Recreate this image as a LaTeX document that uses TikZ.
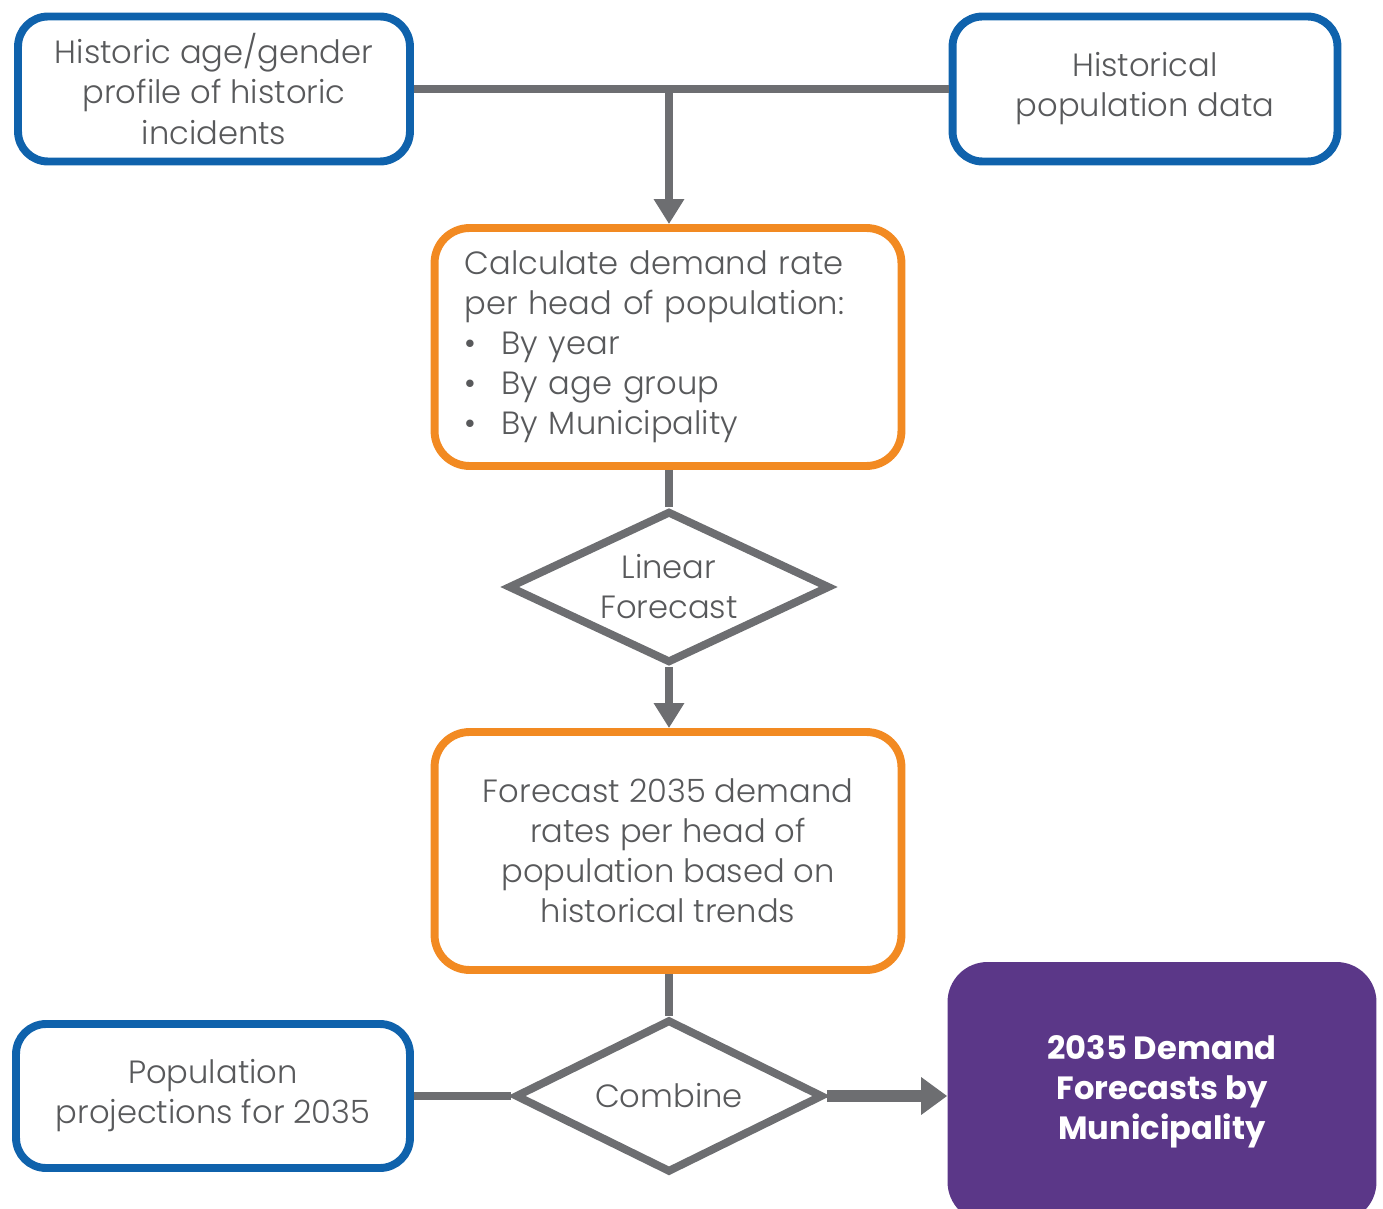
\documentclass[tikz,border=0pt]{standalone}
\usepackage{fontspec}
\setmainfont{Poppins}[UprightFont=* Light, BoldFont=* Bold]
\usepackage{tikz}
\usetikzlibrary{arrows.meta,positioning,shapes.geometric}
\definecolor{InBlue}{HTML}{0F62AC}
\definecolor{StepOrange}{HTML}{F28A22}
\definecolor{LinkGray}{HTML}{6D6E71}
\definecolor{TextGray}{HTML}{58595B}
\definecolor{OutPurple}{HTML}{5B3788}

\begin{document}
\begin{tikzpicture}[
    x=0.02cm, y=-0.02cm,
    font=\fontsize{18.3}{22.8}\selectfont,
    inbox/.style={draw=InBlue, line width=4.5pt, rounded corners=0.6cm, align=center, text=TextGray, minimum width=7.84cm, minimum height=2.9cm, inner sep=0pt},
    stepbox/.style={draw=StepOrange, line width=4.5pt, rounded corners=0.7cm, text=TextGray, minimum width=9.34cm, minimum height=4.76cm, inner sep=0pt},
    decision/.style={diamond, draw=LinkGray, line width=4.5pt, aspect=2, inner sep=0pt, text=TextGray, align=center},
    outbox/.style={fill=OutPurple, rounded corners=0.8cm, text=white, font=\fontsize{18.3}{22.8}\selectfont\bfseries, align=center, minimum width=8.58cm, minimum height=5.2cm},
    link/.style={draw=LinkGray, line width=4.5pt},
    arrow/.style={link, -{Triangle[width=0.58cm,length=0.5cm]}}
  ]
    \useasboundingbox (0,0) rectangle (1383,1209);

    \node[inbox] (ageprofile) at (214,89) {Historic age/gender\\profile of historic\\incidents};
    \node[inbox, minimum width=7.7cm] (histpop) at (1145,89) {Historical\\population data};
    \node[stepbox, text width=8.14cm, align=left] (demandrate) at (668,347) {Calculate demand rate\\per head of population:\\\makebox[0.74cm][l]{\textbullet}By year\\\makebox[0.74cm][l]{\textbullet}By age group\\\makebox[0.74cm][l]{\textbullet}By Municipality};
    \node[decision, minimum width=6.44cm, minimum height=3.04cm] (linear) at (669,587) {Linear\\Forecast};
    \node[stepbox, align=center] (forecast) at (668,851) {Forecast 2035 demand\\rates per head of\\population based on\\historical trends};
    \node[decision, minimum width=6.16cm, minimum height=3.06cm] (combine) at (669,1096) {Combine};
    \node[inbox, minimum width=7.88cm, minimum height=2.88cm] (popproj) at (213,1096) {Population\\projections for 2035};
    \node[outbox] (result) at (1162,1092) {2035 Demand\\Forecasts by\\Municipality};

    \draw[link] (ageprofile.east) -- (histpop.west);
    \draw[arrow] (ageprofile.east -| linear.north) -- (linear.north |- demandrate.north);
    \draw[link] (demandrate.south -| linear.north) -- (linear.north);
    \draw[arrow] (linear.south) -- (linear.south |- forecast.north);
    \draw[link] (forecast.south -| combine.north) -- (combine.north);
    \draw[link] (popproj.east) -- (combine.west);
    \draw[arrow, line width=6.8pt, -{Triangle[width=0.72cm,length=0.52cm]}] (combine.east) -- (combine.east -| result.west);
  \end{tikzpicture}
\end{document}
